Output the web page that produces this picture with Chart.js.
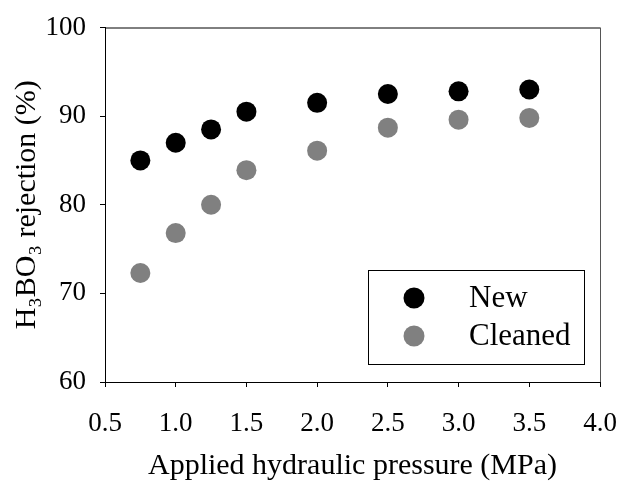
<!DOCTYPE html>
<html><head><meta charset="utf-8">
<script src="https://cdn.jsdelivr.net/npm/chart.js@4/dist/chart.umd.min.js"></script>
<style>html,body{margin:0;padding:0;background:#fff}#w{width:623px;height:481px}</style>
</head><body><div id="w"><canvas id="c" width="623" height="481"></canvas></div>
<script>
const pressures = [0.75, 1.0, 1.25, 1.5, 2.0, 2.5, 3.0, 3.5];
const rejectionNew = [85.0, 87.0, 88.5, 90.5, 91.5, 92.5, 92.8, 93.0];
const rejectionCleaned = [72.3, 76.8, 80.0, 83.9, 86.1, 88.7, 89.6, 89.8];
const seriesNames = ['New', 'Cleaned'];
const seriesColors = ['#000000', '#808080'];
const xTickValues = [0.5, 1.0, 1.5, 2.0, 2.5, 3.0, 3.5, 4.0];
const yTickValues = [60, 70, 80, 90, 100];
const xTitle = 'Applied hydraulic pressure (MPa)';
const yTitle = 'H\u2083BO\u2083 rejection (%)';

const FONT = "'Liberation Serif', 'Times New Roman', serif";

const toPts = ys => pressures.map((x, i) => ({x: x, y: ys[i]}));

const framePlugin = {
  id: 'frame',
  afterDatasetsDraw(chart) {
    const {ctx, chartArea: a} = chart;
    ctx.save();
    ctx.lineWidth = 1;
    ctx.strokeStyle = '#000';
    ctx.beginPath();
    ctx.moveTo(a.left, a.top + 0.5);
    ctx.lineTo(a.right, a.top + 0.5);
    ctx.stroke();
    ctx.strokeStyle = '#555';
    ctx.beginPath();
    ctx.moveTo(a.right + 0.5, a.top);
    ctx.lineTo(a.right + 0.5, a.bottom);
    ctx.stroke();
    // legend box
    const bx = a.right - 232, by = a.bottom - 112, bw = 216, bh = 94;
    ctx.strokeStyle = '#000';
    ctx.strokeRect(bx + 0.5, by + 0.5, bw, bh);
    chart.data.datasets.forEach((ds, i) => {
      const cy = by + 28 + i * 38;
      ctx.fillStyle = ds.backgroundColor;
      ctx.beginPath();
      ctx.arc(bx + 46, cy, 10.5, 0, Math.PI * 2);
      ctx.fill();
      ctx.fillStyle = '#000';
      ctx.font = '31px ' + FONT;
      ctx.textAlign = 'left';
      ctx.textBaseline = 'middle';
      ctx.fillText(ds.label, bx + 101, cy + 1);
    });
    ctx.restore();
  }
};

new Chart(document.getElementById('c'), {
  type: 'scatter',
  data: {
    datasets: [
      {label: seriesNames[0], data: toPts(rejectionNew), backgroundColor: seriesColors[0], borderColor: seriesColors[0], pointRadius: 10, pointBorderWidth: 0},
      {label: seriesNames[1], data: toPts(rejectionCleaned), backgroundColor: seriesColors[1], borderColor: seriesColors[1], pointRadius: 10, pointBorderWidth: 0}
    ]
  },
  options: {
    responsive: false,
    animation: false,
    layout: {padding: {top: 25, right: 23, left: 0, bottom: 0}},
    plugins: {legend: {display: false}, tooltip: {enabled: false}},
    scales: {
      x: {
        type: 'linear', min: 0.5, max: 4.0,
        afterBuildTicks: s => { s.ticks = xTickValues.map(v => ({value: v})); },
        afterFit: s => { s.height = 99; s.paddingRight = 0; s.paddingLeft = 0; },
        grid: {drawOnChartArea: false, tickLength: 5, tickColor: '#000', color: '#000'},
        border: {color: '#000', width: 1},
        ticks: {color: '#000', font: {family: FONT, size: 27, lineHeight: 1}, padding: 23, maxRotation: 0,
          callback: v => Number(v).toFixed(1)},
        title: {display: true, text: xTitle, color: '#000', font: {family: FONT, size: 30, lineHeight: 1}, padding: {top: 0, bottom: 0}}
      },
      y: {
        type: 'linear', min: 60, max: 100,
        afterBuildTicks: s => { s.ticks = yTickValues.map(v => ({value: v})); },
        afterFit: s => { s.width = 105; },
        grid: {drawOnChartArea: false, tickLength: 5, tickColor: '#000', color: '#000'},
        border: {color: '#000', width: 1},
        ticks: {color: '#000', font: {family: FONT, size: 27, lineHeight: 1}, padding: 14},
        title: {display: true, text: yTitle, color: '#000', font: {family: FONT, size: 30, lineHeight: 1}, padding: {top: 12, bottom: 0}}
      }
    }
  },
  plugins: [framePlugin]
});
</script></body></html>
